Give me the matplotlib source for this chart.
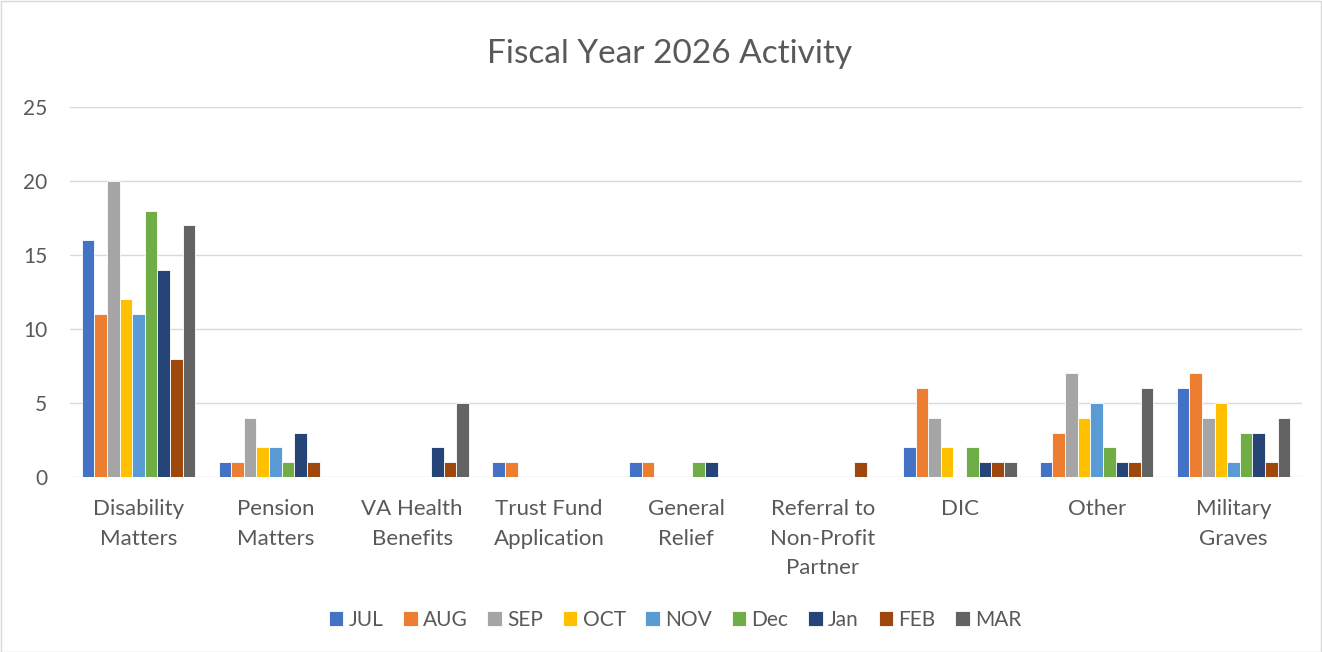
import matplotlib
matplotlib.use("Agg")
import matplotlib.pyplot as plt
import numpy as np
from matplotlib.patches import Rectangle

plt.rcParams['font.family'] = ['Lato', 'DejaVu Sans']

categories = ["Disability\nMatters", "Pension\nMatters", "VA Health\nBenefits", "Trust Fund\nApplication",
              "General\nRelief", "Referral to\nNon-Profit\nPartner", "DIC", "Other", "Military\nGraves"]
series_names = ["JUL", "AUG", "SEP", "OCT", "NOV", "Dec", "Jan", "FEB", "MAR"]
JUL = [16, 1, 0, 1, 1, 0, 2, 1, 6]
AUG = [11, 1, 0, 1, 1, 0, 6, 3, 7]
SEP = [20, 4, 0, 0, 0, 0, 4, 7, 4]
OCT = [12, 2, 0, 0, 0, 0, 2, 4, 5]
NOV = [11, 2, 0, 0, 0, 0, 0, 5, 1]
DEC = [18, 1, 0, 0, 1, 0, 2, 2, 3]
JAN = [14, 3, 2, 0, 1, 0, 1, 1, 3]
FEB = [8, 1, 1, 0, 0, 1, 1, 1, 1]
MAR = [17, 0, 5, 0, 0, 0, 1, 6, 4]
series = [JUL, AUG, SEP, OCT, NOV, DEC, JAN, FEB, MAR]
colors = ["#4472C4", "#ED7D31", "#A5A5A5", "#FFC000", "#5B9BD5", "#70AD47", "#264478", "#9E480E", "#636363"]
yticks = [0, 5, 10, 15, 20, 25]

W, H = 1322, 652
fig = plt.figure(figsize=(W / 100, H / 100), dpi=100)
fig.patches.append(Rectangle((0.5 / W, 0.5 / H), 1 - 1.5 / W, 1 - 1.5 / H, transform=fig.transFigure,
                             fill=False, edgecolor="#D9D9D9", linewidth=1))

ax = fig.add_axes([70 / W, 1 - 477 / H, (1302 - 70) / W, (477 - 107) / H])
n = len(series)
x = np.arange(len(categories))
group = 0.83
bw = group / n
for i, (name, vals, c) in enumerate(zip(series_names, series, colors)):
    ax.bar(x - group / 2 + bw * (i + 0.5), vals, width=bw, color=c, edgecolor="white",
           linewidth=0.6, label=name, zorder=3)

ax.set_xlim(-0.5, len(categories) - 0.5)
ax.set_ylim(0, 25)
ax.set_yticks(yticks)
ax.yaxis.grid(True, color="#D9D9D9", linewidth=1, zorder=0)
ax.set_axisbelow(True)
for s in ax.spines.values():
    s.set_visible(False)
ax.tick_params(axis="both", length=0, colors="#595959")
ax.tick_params(axis="y", pad=16.5, labelsize=15)
ax.tick_params(axis="x", pad=16, labelsize=16)
ax.set_xticks(x)
ax.set_xticklabels(categories, linespacing=1.6, va="top")

fig.text(670 / W, 1 - 54 / H, "Fiscal Year 2026 Activity", ha="center", va="center",
         fontsize=24, color="#595959")

leg = fig.legend(loc="center", bbox_to_anchor=(675 / W, 1 - 620 / H), ncol=n, frameon=False,
                 fontsize=15, handlelength=0.7, handleheight=0.7, handletextpad=0.25,
                 columnspacing=0.95, labelcolor="#595959")

fig.savefig("out.png", dpi=100)
